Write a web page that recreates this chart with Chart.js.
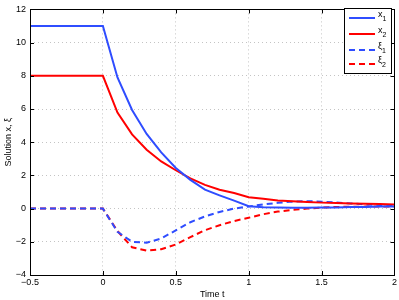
<!DOCTYPE html>
<html>
<head>
<meta charset="utf-8">
<script src="https://cdn.jsdelivr.net/npm/chart.js@4.4.1/dist/chart.umd.min.js"></script>
<style>
  html, body { margin: 0; padding: 0; background: #fff; }
  #wrap { width: 399px; height: 300px; }
</style>
</head>
<body>
<div id="wrap"><canvas id="solChart"></canvas></div>
<script>
// time samples and solution values
const timeT = [-0.5, 0, 0.1, 0.2, 0.3, 0.4, 0.5, 0.6, 0.7, 0.8, 0.9, 1.0, 1.1, 1.2, 1.3, 1.4, 1.5, 1.6, 1.7, 1.8, 1.9, 2.0];
const x1 = [11, 11, 7.9, 5.94, 4.5, 3.39, 2.45, 1.73, 1.14, 0.8, 0.48, 0.14, 0.08, 0.06, 0.05, 0.05, 0.06, 0.07, 0.09, 0.1, 0.12, 0.13];
const x2 = [8, 8, 5.78, 4.47, 3.55, 2.84, 2.31, 1.82, 1.43, 1.14, 0.94, 0.69, 0.6, 0.49, 0.44, 0.4, 0.36, 0.33, 0.31, 0.29, 0.27, 0.25];
const xi1 = [0, 0, -1.4, -2.0, -2.06, -1.8, -1.31, -0.82, -0.47, -0.2, 0, 0.13, 0.25, 0.35, 0.42, 0.45, 0.42, 0.37, 0.31, 0.25, 0.22, 0.2];
const xi2 = [0, 0, -1.35, -2.33, -2.53, -2.45, -2.16, -1.72, -1.3, -1.0, -0.75, -0.55, -0.34, -0.18, -0.08, 0, 0.06, 0.1, 0.11, 0.12, 0.12, 0.12];
const yTicks = [-4, -2, 0, 2, 4, 6, 8, 10, 12];
const xTicks = [-0.5, 0, 0.5, 1, 1.5, 2];

const BLUE = '#2f4dff';
const RED = '#ff0000';
const FONT = 'Liberation Sans, Arial, Helvetica, sans-serif';

function pts(ys) {
    return timeT.map((t, i) => ({ x: t, y: ys[i] }));
}

const legendItems = [
    { base: 'x', sub: '1', color: BLUE, dash: [] },
    { base: 'x', sub: '2', color: RED, dash: [] },
    { base: 'ξ', sub: '1', color: BLUE, dash: [6, 4] },
    { base: 'ξ', sub: '2', color: RED, dash: [6, 4] }
];

// box around the axes, inward ticks, and the boxed legend
const boxPlugin = {
    id: 'boxPlugin',
    afterDraw(chart) {
        const ctx = chart.ctx;
        const a = chart.chartArea;
        const xs = chart.scales.x, ys = chart.scales.y;
        ctx.save();
        ctx.strokeStyle = '#000';
        ctx.lineWidth = 1;
        ctx.beginPath();
        xTicks.forEach(v => {
            const px = Math.round(xs.getPixelForValue(v)) + 0.5;
            ctx.moveTo(px, a.bottom); ctx.lineTo(px, a.bottom - 4);
            ctx.moveTo(px, a.top); ctx.lineTo(px, a.top + 4);
        });
        yTicks.forEach(v => {
            const py = Math.round(ys.getPixelForValue(v)) + 0.5;
            ctx.moveTo(a.left, py); ctx.lineTo(a.left + 4, py);
            ctx.moveTo(a.right, py); ctx.lineTo(a.right - 4, py);
        });
        ctx.stroke();
        ctx.strokeRect(Math.round(a.left) + 0.5, Math.round(a.top) + 0.5,
            Math.round(a.right - a.left), Math.round(a.bottom - a.top));

        // legend
        const lx = 344.5, ly = 8.5, lw = 47, lh = 65;
        ctx.fillStyle = '#fff';
        ctx.fillRect(lx, ly, lw, lh);
        ctx.strokeRect(lx, ly, lw, lh);
        const rowY = [18, 34, 50, 64];
        legendItems.forEach((it, i) => {
            const y = rowY[i];
            ctx.strokeStyle = it.color;
            ctx.lineWidth = 2;
            ctx.setLineDash(it.dash);
            ctx.beginPath();
            ctx.moveTo(349, y); ctx.lineTo(375, y);
            ctx.stroke();
            ctx.setLineDash([]);
            ctx.fillStyle = '#000';
            ctx.textBaseline = 'alphabetic';
            ctx.textAlign = 'left';
            ctx.font = '9px ' + FONT;
            ctx.fillText(it.base, 378, y - 1);
            const w = ctx.measureText(it.base).width;
            ctx.font = '7px ' + FONT;
            ctx.fillText(it.sub, 378 + w, y + 3);
        });
        ctx.restore();
    }
};

new Chart(document.getElementById('solChart').getContext('2d'), {
    type: 'line',
    data: {
        datasets: [
            { label: 'x1', data: pts(x1), borderColor: BLUE, borderWidth: 2, pointRadius: 0, tension: 0, fill: false },
            { label: 'x2', data: pts(x2), borderColor: RED, borderWidth: 2, pointRadius: 0, tension: 0, fill: false },
            { label: 'xi1', data: pts(xi1), borderColor: BLUE, borderWidth: 2, borderDash: [6, 4], pointRadius: 0, tension: 0, fill: false },
            { label: 'xi2', data: pts(xi2), borderColor: RED, borderWidth: 2, borderDash: [6, 4], pointRadius: 0, tension: 0, fill: false }
        ]
    },
    options: {
        responsive: true,
        maintainAspectRatio: false,
        animation: false,
        layout: { padding: { left: 3, right: 3, top: 4, bottom: 0 } },
        plugins: {
            legend: { display: false },
            tooltip: { enabled: false }
        },
        scales: {
            x: {
                type: 'linear',
                min: -0.5,
                max: 2,
                afterBuildTicks: s => { s.ticks = xTicks.map(v => ({ value: v })); },
                afterFit: s => { s.height = 25; },
                ticks: {
                    color: '#000',
                    padding: 2,
                    maxRotation: 0,
                    font: { family: FONT, size: 9 },
                    callback: v => (v < 0 ? '\u2212' : '') + Math.abs(v)
                },
                grid: { color: '#c4c4c4', drawTicks: false, lineWidth: 1 },
                border: { display: false, dash: [1, 3] },
                title: {
                    display: true,
                    text: 'Time t',
                    color: '#000',
                    padding: { top: 0, bottom: 0 },
                    font: { family: FONT, size: 9 }
                }
            },
            y: {
                min: -4,
                max: 12,
                afterBuildTicks: s => { s.ticks = yTicks.map(v => ({ value: v })); },
                afterFit: s => { s.width = 27; },
                ticks: {
                    color: '#000',
                    padding: 4,
                    font: { family: FONT, size: 9 },
                    callback: v => (v < 0 ? '\u2212' : '') + Math.abs(v)
                },
                grid: { color: '#c4c4c4', drawTicks: false, lineWidth: 1 },
                border: { display: false, dash: [1, 3] },
                title: {
                    display: true,
                    text: 'Solution x, ξ',
                    color: '#000',
                    padding: { top: 0, bottom: 2 },
                    font: { family: FONT, size: 9 }
                }
            }
        }
    },
    plugins: [boxPlugin]
});
</script>
</body>
</html>
